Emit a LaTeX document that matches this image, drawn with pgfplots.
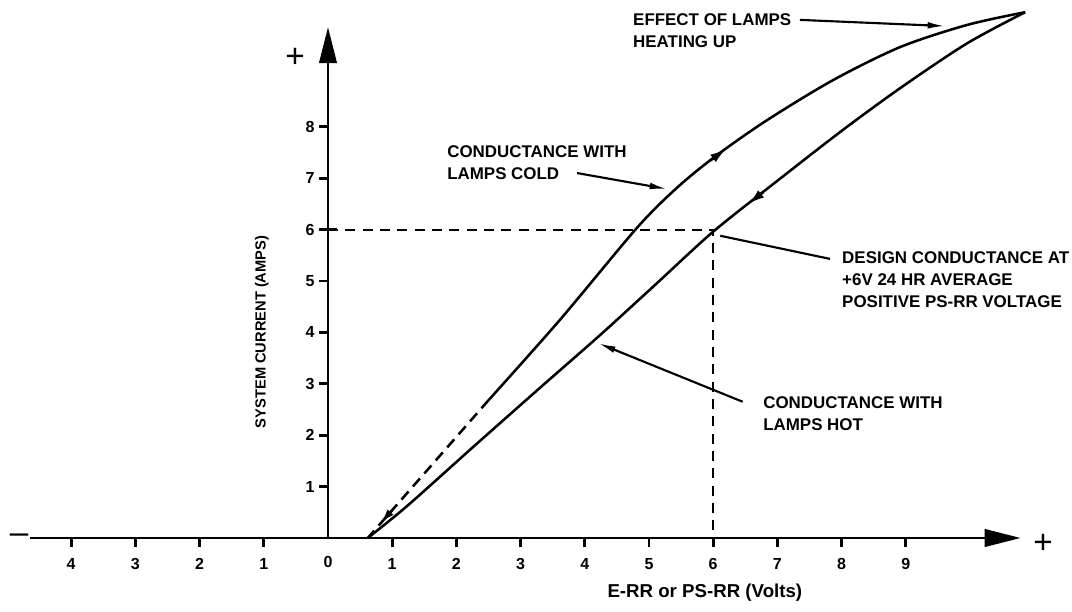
\documentclass[border=0pt]{standalone}
\usepackage{fontspec}
\setmainfont{Liberation Sans}
\usepackage{pgfplots}
\pgfplotsset{compat=1.18}
\usetikzlibrary{arrows.meta}

\begin{document}
\begin{tikzpicture}
\begin{axis}[
  x=48.15pt, y=38.55pt,
  xmin=-4.64, xmax=10.79, ymin=0, ymax=9.94,
  axis lines=middle,
  axis line style={line width=2.2pt},
  x axis line style={-{Triangle[length=27pt,width=13pt]}},
  y axis line style={-{Triangle[length=27pt,width=13pt]}},
  clip=false,
  xtick={-4,-3,-2,-1,1,2,3,4,5,6,7,8,9},
  xticklabels={4,3,2,1,1,2,3,4,5,6,7,8,9},
  ytick={1,2,3,4,5,6,7,8},
  tick align=outside,
  major tick length=6.5pt,
  tick style={line width=2pt, black},
  xtick style={draw=none},
  ticklabel style={font=\bfseries\fontsize{12}{14}\selectfont},
  xticklabel style={yshift=-5pt},
  /pgf/number format/assume math mode=true,
  xlabel={E-RR or PS-RR (Volts)},
  ylabel={SYSTEM CURRENT (AMPS)},
  every axis x label/.style={at={(axis cs:5.87,-1.06)}, anchor=center, font=\bfseries\fontsize{14}{16}\selectfont},
  every axis y label/.style={at={(axis cs:-1.03,4.01)}, anchor=center, rotate=90, font=\bfseries\fontsize{11}{13}\selectfont},
]
% page frame
\coordinate (bbsw) at (axis cs:-5.109,-1.4397);
\coordinate (bbne) at (axis cs:11.589,10.467);

% x tick marks, below the axis
\pgfplotsinvokeforeach{-4,-3,-2,-1,1,2,3,4,5,6,7,8,9}{
  \draw[line width=2.2pt, black] (axis cs:#1,0) -- (axis cs:#1,-0.18);
}

% design point
\addplot[line width=1.5pt, dash pattern=on 7.5pt off 5.5pt] coordinates {(0,6) (6,6) (6,0)};
\draw[line width=2pt] (axis cs:-0.13,6) -- (axis cs:0.14,6);

% lamps cold, extrapolated part
\addplot[line width=1.9pt, dash pattern=on 8pt off 5pt] coordinates {(2.50,2.68) (0.62,0)};
\addplot[line width=1.9pt, -{Latex[length=11pt,width=6pt]}] coordinates {(1.00,0.54) (0.82,0.29)};

% lamps cold
\addplot[line width=1.9pt, smooth] coordinates {
  (2.50,2.68) (3.61,4.24) (4.81,6.03) (5.45,6.83) (6.06,7.45) (6.84,8.13)
  (7.87,8.91) (8.91,9.55) (9.95,9.98) (10.86,10.23)};
\addplot[line width=1.9pt, -{Latex[length=12pt,width=7pt]}] coordinates {(5.95,7.34) (6.20,7.57)};

% lamps hot
\addplot[line width=1.9pt, smooth] coordinates {
  (10.86,10.23) (9.95,9.62) (8.91,8.75) (8.00,7.92) (7.00,6.95) (6.00,5.96)
  (5.10,4.93) (4.24,3.95) (3.30,2.92) (2.26,1.77) (1.23,0.62) (0.62,0)};
\addplot[line width=1.9pt, -{Latex[length=12pt,width=7pt]}] coordinates {(6.78,6.73) (6.55,6.50)};

% notes
\tikzset{note/.style={anchor=north west, inner sep=0pt, align=left, font=\bfseries\fontsize{12.7}{16.5}\selectfont}}
\node[note] at (axis cs:4.75,10.21) {EFFECT OF LAMPS\\HEATING UP};
\node[note] at (axis cs:1.854,7.646) {CONDUCTANCE WITH\\LAMPS COLD};
\node[note] at (axis cs:8.006,5.584) {DESIGN CONDUCTANCE AT\\+6V 24 HR AVERAGE\\POSITIVE PS-RR VOLTAGE};
\node[note] at (axis cs:6.776,2.763) {CONDUCTANCE WITH\\LAMPS HOT};

\draw[line width=1.6pt, -{Latex[length=13pt,width=5pt]}] (axis cs:7.35,10.08) -- (axis cs:9.61,9.96);
\draw[line width=1.6pt, -{Latex[length=13pt,width=5pt]}] (axis cs:3.88,7.10) -- (axis cs:5.28,6.79);
\draw[line width=1.6pt] (axis cs:7.82,5.43) -- (axis cs:6.11,5.88);
\draw[line width=1.6pt, -{Latex[length=13pt,width=5pt]}] (axis cs:6.46,2.65) -- (axis cs:4.21,3.79);

% origin label and signs
\node[font=\bfseries\fontsize{12}{14}\selectfont] at (axis cs:0,-0.46) {0};
\node[font=\fontsize{25}{25}\selectfont, inner sep=0pt] at (axis cs:-0.514,9.34) {+};
\node[font=\fontsize{25}{25}\selectfont, inner sep=0pt] at (axis cs:11.14,-0.12) {+};
\node[font=\fontsize{25}{25}\selectfont, inner sep=0pt] at (axis cs:-4.81,-0.02) {–};
\end{axis}
\pgfresetboundingbox
\path[use as bounding box] (bbsw) rectangle (bbne);
\end{tikzpicture}
\end{document}
